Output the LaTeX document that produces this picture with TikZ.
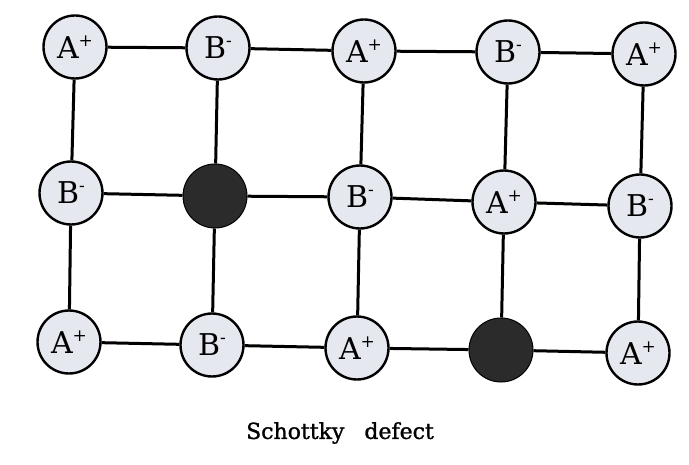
\documentclass[tikz,border=0pt]{standalone}
\usepackage{fontspec}
\setmainfont{DejaVu Serif}
\newfontfamily\capfont[FakeBold=1.2]{DejaVu Serif}
\definecolor{ionfill}{HTML}{E6E8F0}
\definecolor{holefill}{HTML}{2B2B2B}
\newcommand{\ionsup}[1]{\raisebox{0.42em}{\fontsize{17}{17}\selectfont #1}}
\begin{document}
\begin{tikzpicture}[x=1pt,y=-1pt,
  ion/.style={circle,draw=black,line width=2.4pt,fill=ionfill,minimum size=63pt,inner sep=0pt,font=\fontsize{30}{30}\selectfont},
  hole/.style={circle,draw=black,line width=1pt,fill=holefill,minimum size=64pt,inner sep=0pt},
  bond/.style={line width=3pt,black}]
\useasboundingbox (0,0) rectangle (689,465);
% row 1
\node[ion] (a1) at (75,47) {A\ionsup{+}};
\node[ion] (a2) at (218,48) {B\ionsup{-}};
\node[ion] (a3) at (364,51) {A\ionsup{+}};
\node[ion] (a4) at (508,52) {B\ionsup{-}};
\node[ion] (a5) at (644,54) {A\ionsup{+}};
% row 2
\node[ion] (b1) at (71,193) {B\ionsup{-}};
\node[hole] (b2) at (215,196) {};
\node[ion] (b3) at (360,197) {B\ionsup{-}};
\node[ion] (b4) at (504,202) {A\ionsup{+}};
\node[ion] (b5) at (640,206) {B\ionsup{-}};
% row 3
\node[ion] (c1) at (69,342) {A\ionsup{+}};
\node[ion] (c2) at (212,345) {B\ionsup{-}};
\node[ion] (c3) at (357,348) {A\ionsup{+}};
\node[hole] (c4) at (501,350) {};
\node[ion] (c5) at (638,353) {A\ionsup{+}};
% bonds
\foreach \r in {a,b,c}{
  \draw[bond] (\r1) -- (\r2);
  \draw[bond] (\r2) -- (\r3);
  \draw[bond] (\r3) -- (\r4);
  \draw[bond] (\r4) -- (\r5);
}
\foreach \c in {1,...,5}{
  \draw[bond] (a\c) -- (b\c);
  \draw[bond] (b\c) -- (c\c);
}
\node (cap) at (340,433) {\capfont\fontsize{22}{22}\selectfont Schottky\hspace{20pt}defect};
\end{tikzpicture}
\end{document}
